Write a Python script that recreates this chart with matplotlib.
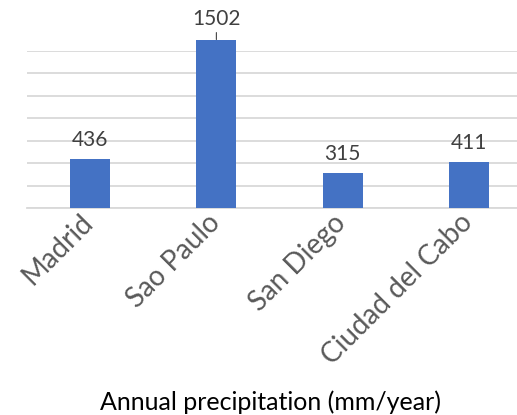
import matplotlib
matplotlib.use("Agg")
import matplotlib.pyplot as plt
from matplotlib.transforms import ScaledTranslation

cities = ["Madrid", "Sao Paulo", "San Diego", "Ciudad del Cabo"]
precip = [436, 1502, 315, 411]
title = "Annual precipitation (mm/year)"

plt.rcParams['font.family'] = ['Lato', 'DejaVu Sans']

fig = plt.figure(figsize=(5.17, 4.15), dpi=100)
W, H = 517, 415
ax = fig.add_axes([27 / W, (H - 208.5) / H, 505 / W, 157.5 / H])

x = list(range(len(cities)))
bars = ax.bar(x, precip, width=0.317, color="#4472C4", zorder=3, clip_on=False)
ax.set_xlim(-0.5, len(cities) - 0.5)
ax.set_ylim(0, 1400)
ax.set_yticks(range(0, 1401, 200))
ax.yaxis.grid(True, color="#D9D9D9", linewidth=1.3, zorder=0)
ax.tick_params(axis='y', left=False, labelleft=False)
ax.tick_params(axis='x', bottom=False, pad=0)
for s in ["top", "right", "left"]:
    ax.spines[s].set_visible(False)
ax.spines["bottom"].set_color("#D9D9D9")
ax.spines["bottom"].set_linewidth(1.3)

ax.set_xticks(x)
ax.set_xticklabels(cities, rotation=45, ha="right", va="top", rotation_mode="anchor",
                   fontsize=20, color="#595959")
shift = ScaledTranslation(-10 / 100, 4 / 100, fig.dpi_scale_trans)
for lbl in ax.get_xticklabels():
    lbl.set_transform(lbl.get_transform() + shift)

for xi, v in zip(x, precip):
    if v > 1400:
        ax.annotate(str(v), xy=(xi, v), xytext=(0, 7.5), textcoords="offset points",
                    ha="center", va="bottom", fontsize=15, color="#404040",
                    annotation_clip=False)
        ax.annotate("", xy=(xi, v), xytext=(0, 5), textcoords="offset points",
                    arrowprops=dict(arrowstyle="-", color="#404040", lw=0.8,
                                    shrinkA=0, shrinkB=0),
                    annotation_clip=False)
    else:
        ax.annotate(str(v), xy=(xi, v), xytext=(0, 6.5), textcoords="offset points",
                    ha="center", va="bottom", fontsize=15, color="#404040")

fig.text(271 / W, (H - 402) / H, title, ha="center", va="center",
         fontsize=18, color="#000000")

fig.savefig("out.png", dpi=100)
